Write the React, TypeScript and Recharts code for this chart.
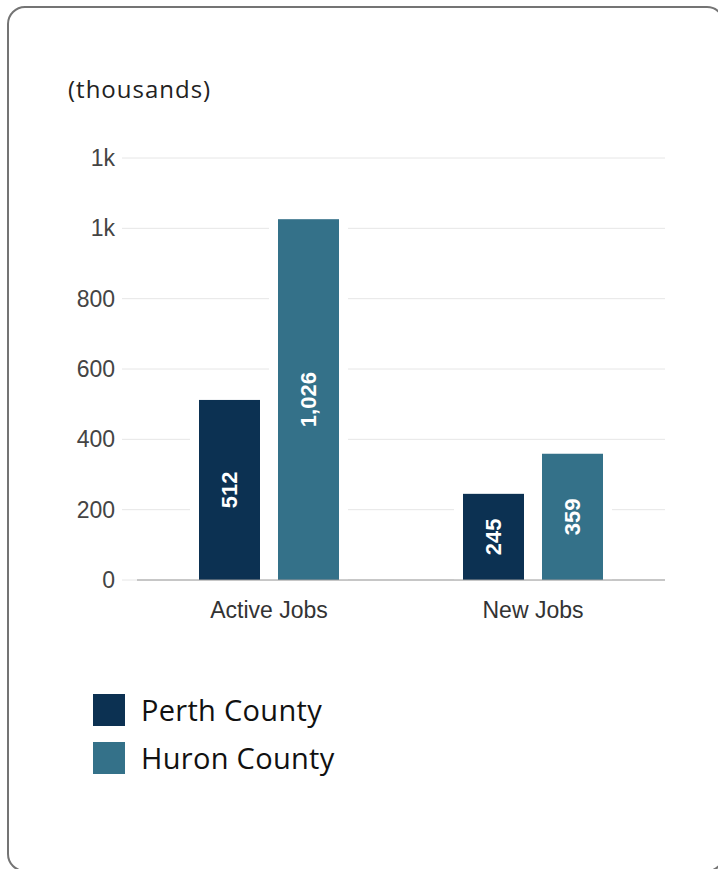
import { BarChart, Bar, XAxis, YAxis, CartesianGrid, Legend, LabelList } from "recharts";

const categories = ["Active Jobs", "New Jobs"];
const perthCounty = [512, 245];
const huronCounty = [1026, 359];
const seriesNames = ["Perth County", "Huron County"];
const yTicks = [0, 200, 400, 600, 800, 1000, 1200];
const unitLabel = "(thousands)";

const colors = ["#0c3152", "#347189"];

const data = categories.map((name, i) => ({
  name,
  perth: perthCounty[i],
  huron: huronCounty[i],
}));

const fmtTick = (v: number) => (v >= 1000 ? `${Math.floor(v / 1000)}k` : `${v}`);

// bar with a white halo that breaks the gridlines around it
function HaloBar(props: any) {
  const { x, y, width, height, fill } = props;
  if (!height || height <= 0) return null;
  const pad = 9;
  return (
    <g>
      <rect x={x - pad} y={y - pad} width={width + pad * 2} height={height + pad} fill="#fff" />
      <rect x={x} y={y} width={width} height={height} fill={fill} />
    </g>
  );
}

function ValueLabel(props: any) {
  const { x, y, width, height, value } = props;
  const cx = x + width / 2;
  const cy = y + height / 2;
  return (
    <text
      x={cx}
      y={cy}
      transform={`rotate(-90 ${cx} ${cy})`}
      textAnchor="middle"
      dominantBaseline="central"
      fill="#fff"
      fontSize={22}
      fontWeight="bold"
      fontFamily="'Liberation Sans', Arial, sans-serif"
    >
      {Number(value).toLocaleString("en-US")}
    </text>
  );
}

function LegendList({ payload }: any) {
  const items = [...(payload || [])].sort(
    (a: any, b: any) => seriesNames.indexOf(a.value) - seriesNames.indexOf(b.value)
  );
  return (
    <div>
      {items.map((entry: any) => (
        <div key={entry.value} style={{ display: "flex", alignItems: "center", height: 32, marginBottom: 16 }}>
          <span style={{ width: 32, height: 32, background: entry.color, display: "inline-block" }} />
          <span
            style={{
              marginLeft: 16,
              fontSize: 29,
              fontFamily: "'Open Sans', sans-serif",
              color: "#111",
              lineHeight: "32px",
              letterSpacing: 0.3,
            }}
          >
            {entry.value}
          </span>
        </div>
      ))}
    </div>
  );
}

export default function App() {
  return (
    <div style={{ position: "fixed", left: 0, top: 0, width: 718, height: 869, background: "#fff", overflow: "hidden" }}>
      <div
        style={{
          position: "absolute",
          left: 7,
          top: 6,
          width: 714,
          height: 862,
          border: "2px solid #747474",
          borderRadius: 18,
        }}
      />
      <div
        style={{
          position: "absolute",
          left: 68,
          top: 77,
          fontSize: 24,
          lineHeight: "24px",
          letterSpacing: 1,
          fontFamily: "'Open Sans', sans-serif",
          color: "#222",
        }}
      >
        {unitLabel}
      </div>
      <div style={{ position: "absolute", left: 0, top: 0 }}>
        <BarChart
          width={718}
          height={800}
          data={data}
          margin={{ top: 158, right: 53, bottom: 180, left: 0 }}
          barSize={61}
          barGap={18}
        >
          <CartesianGrid vertical={false} stroke="#e6e6e6" />
          <YAxis
            width={137}
            domain={[0, 1200]}
            ticks={yTicks}
            tickFormatter={fmtTick}
            axisLine={false}
            tickLine={{ stroke: "#e6e6e6" }}
            tickSize={15}
            tickMargin={7}
            tick={{ fill: "#444", fontSize: 23, fontFamily: "'Liberation Sans', Arial, sans-serif" }}
          />
          <XAxis
            dataKey="name"
            height={40}
            axisLine={{ stroke: "#9a9a9a" }}
            tickLine={false}
            tickSize={0}
            tickMargin={22}
            tick={{ fill: "#333", fontSize: 23, fontFamily: "'Liberation Sans', Arial, sans-serif" }}
          />
          <Legend
            layout="horizontal"
            verticalAlign="middle"
            align="center"
            content={<LegendList />}
            wrapperStyle={{ position: "absolute", top: 694, left: 93, width: 400 }}
          />
          <Bar dataKey="perth" name={seriesNames[0]} fill={colors[0]} shape={<HaloBar />} isAnimationActive={false}>
            <LabelList dataKey="perth" content={<ValueLabel />} />
          </Bar>
          <Bar dataKey="huron" name={seriesNames[1]} fill={colors[1]} shape={<HaloBar />} isAnimationActive={false}>
            <LabelList dataKey="huron" content={<ValueLabel />} />
          </Bar>
        </BarChart>
      </div>
    </div>
  );
}
